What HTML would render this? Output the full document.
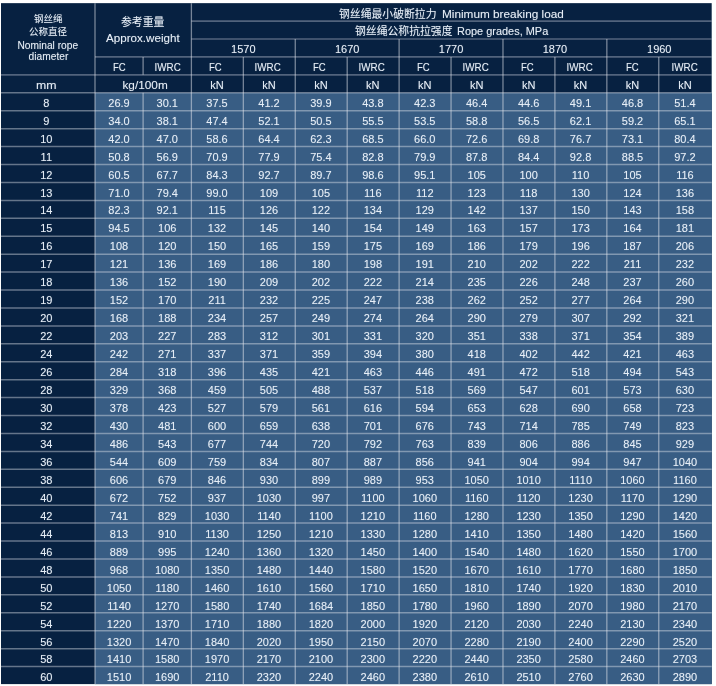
<!DOCTYPE html>
<html lang="en"><head><meta charset="utf-8"><title>Steel wire rope data table</title>
<style>
html,body{margin:0;padding:0;background:#fff}
body{width:716px;height:686px;position:relative;overflow:hidden;font-family:"Liberation Sans", sans-serif;font-size:11px;color:#e6eef7}
#bg{position:absolute;left:0;top:0}
.t{position:absolute;line-height:16px;height:16px;text-align:center;white-space:nowrap}
.t span{display:inline-block}
.t.l{text-align:left}
.t.l span{transform-origin:0 50%}
.g{position:absolute;overflow:visible;fill:#e6eef7;stroke:none}
.g text{font-family:"Liberation Sans","Noto Sans CJK SC",sans-serif;font-size:1000px;fill:#e6eef7;stroke:none}
#tx{position:absolute;left:0;top:0;width:716px;height:686px;will-change:transform;text-shadow:0 0 1px rgba(255,255,255,0.35)}
</style></head><body>
<svg id="bg" width="716" height="686" viewBox="0 0 716 686"><rect x="1" y="3.15" width="710.7" height="680.95" fill="#072141"/><rect x="95" y="92.8" width="616.7" height="591.3" fill="#385d84"/><path d="M191.4 21.08H711.7M191.4 39.01H711.7M95 56.94H711.7M1 74.87H711.7" fill="none" stroke="rgba(225,230,240,0.34)" stroke-width="1.7"/><path d="M1 92.8H711.7M1 110.73H711.7M1 128.66H711.7M1 146.59H711.7M1 164.52H711.7M1 182.45H711.7M1 200.38H711.7M1 218.31H711.7M1 236.24H711.7M1 254.17H711.7M1 272.1H711.7M1 290.03H711.7M1 307.96H711.7M1 325.89H711.7M1 343.82H711.7M1 361.75H711.7M1 379.68H711.7M1 397.61H711.7M1 415.54H711.7M1 433.47H711.7M1 451.4H711.7M1 469.33H711.7M1 487.26H711.7M1 505.19H711.7M1 523.12H711.7M1 541.05H711.7M1 558.98H711.7M1 576.91H711.7M1 594.84H711.7M1 612.77H711.7M1 630.7H711.7M1 648.63H711.7M1 666.56H711.7" fill="none" stroke="rgba(232,234,240,0.42)" stroke-width="1.5"/><path d="M95 3.15V684.1M143.1 56.94V74.87M143.1 92.8V684.1M191.4 3.15V684.1M243.33 56.94V684.1M295.26 39.01V684.1M347.19 56.94V684.1M399.12 39.01V684.1M451.05 56.94V684.1M502.98 39.01V684.1M554.91 56.94V684.1M606.84 39.01V684.1M658.77 56.94V684.1" fill="none" stroke="rgba(232,234,240,0.5)" stroke-width="1.3"/></svg>
<div id="tx">
<svg class="g" role="img" aria-label="钢丝绳" style="left:33.75px;top:14.15px" width="28.5" height="9.5" viewBox="0 -880 3000 1000"><title>钢丝绳</title><text x="0" y="0" font-size="1000">钢丝绳</text></svg>
<svg class="g" role="img" aria-label="公称直径" style="left:29px;top:26.75px" width="38" height="9.5" viewBox="0 -880 4000 1000"><title>公称直径</title><text x="0" y="0" font-size="1000">公称直径</text></svg>
<div class="t" style="left:-12px;top:38px;width:120px;font-size:10px"><span style="transform:scaleX(1.02)">Nominal rope</span></div>
<div class="t" style="left:-12px;top:49px;width:120px;font-size:10px"><span style="transform:scaleX(1.02)">diameter</span></div>
<div class="t" style="left:-13.7px;top:77px;width:120px"><span style="transform:scaleX(1.118)">mm</span></div>
<svg class="g" role="img" aria-label="参考重量" style="left:120.7px;top:16.38px" width="43.4" height="10.85" viewBox="0 -880 4000 1000"><title>参考重量</title><text x="0" y="0" font-size="1000">参考重量</text></svg>
<div class="t" style="left:83.2px;top:30px;width:120px"><span style="transform:scaleX(1.057)">Approx.weight</span></div>
<div class="t" style="left:59.05px;top:59px;width:120px"><span style="transform:scaleX(0.87)">FC</span></div>
<div class="t" style="left:107.25px;top:59px;width:120px"><span style="transform:scaleX(0.893)">IWRC</span></div>
<div class="t" style="left:85.2px;top:77px;width:120px"><span style="transform:scaleX(1.073)">kg/100m</span></div>
<svg class="g" role="img" aria-label="钢丝绳最小破断拉力" style="left:339.1px;top:8.19px" width="97.65" height="10.85" viewBox="0 -880 9000 1000"><title>钢丝绳最小破断拉力</title><text x="0" y="0" font-size="1000">钢丝绳最小破断拉力</text></svg>
<div class="t l" style="left:442.4px;top:6px"><span style="transform:scaleX(1.071)">Minimum breaking load</span></div>
<svg class="g" role="img" aria-label="钢丝绳公称抗拉强度" style="left:355.1px;top:25.02px" width="97.65" height="10.85" viewBox="0 -880 9000 1000"><title>钢丝绳公称抗拉强度</title><text x="0" y="0" font-size="1000">钢丝绳公称抗拉强度</text></svg>
<div class="t l" style="left:457.4px;top:23px"><span style="transform:scaleX(0.995)">Rope grades, MPa</span></div>
<div class="t" style="left:183.33px;top:41px;width:120px">1570</div>
<div class="t" style="left:287.19px;top:41px;width:120px">1670</div>
<div class="t" style="left:391.05px;top:41px;width:120px">1770</div>
<div class="t" style="left:494.91px;top:41px;width:120px">1870</div>
<div class="t" style="left:599.27px;top:41px;width:120px">1960</div>
<div class="t" style="left:155.56px;top:59px;width:120px"><span style="transform:scaleX(0.87)">FC</span></div>
<div class="t" style="left:157.06px;top:77px;width:120px">kN</div>
<div class="t" style="left:207.61px;top:59px;width:120px"><span style="transform:scaleX(0.893)">IWRC</span></div>
<div class="t" style="left:209px;top:77px;width:120px">kN</div>
<div class="t" style="left:259.65px;top:59px;width:120px"><span style="transform:scaleX(0.87)">FC</span></div>
<div class="t" style="left:260.93px;top:77px;width:120px">kN</div>
<div class="t" style="left:311.68px;top:59px;width:120px"><span style="transform:scaleX(0.893)">IWRC</span></div>
<div class="t" style="left:312.85px;top:77px;width:120px">kN</div>
<div class="t" style="left:363.73px;top:59px;width:120px"><span style="transform:scaleX(0.87)">FC</span></div>
<div class="t" style="left:364.79px;top:77px;width:120px">kN</div>
<div class="t" style="left:415.76px;top:59px;width:120px"><span style="transform:scaleX(0.893)">IWRC</span></div>
<div class="t" style="left:416.71px;top:77px;width:120px">kN</div>
<div class="t" style="left:467.8px;top:59px;width:120px"><span style="transform:scaleX(0.87)">FC</span></div>
<div class="t" style="left:468.64px;top:77px;width:120px">kN</div>
<div class="t" style="left:519.85px;top:59px;width:120px"><span style="transform:scaleX(0.893)">IWRC</span></div>
<div class="t" style="left:520.58px;top:77px;width:120px">kN</div>
<div class="t" style="left:571.89px;top:59px;width:120px"><span style="transform:scaleX(0.87)">FC</span></div>
<div class="t" style="left:572.51px;top:77px;width:120px">kN</div>
<div class="t" style="left:624.43px;top:59px;width:120px"><span style="transform:scaleX(0.893)">IWRC</span></div>
<div class="t" style="left:624.94px;top:77px;width:120px">kN</div>
<div class="t" style="left:-13.7px;top:95px;width:120px">8</div>
<div class="t" style="left:59.05px;top:95px;width:120px">26.9</div>
<div class="t" style="left:107.25px;top:95px;width:120px">30.1</div>
<div class="t" style="left:157.06px;top:95px;width:120px">37.5</div>
<div class="t" style="left:209px;top:95px;width:120px">41.2</div>
<div class="t" style="left:260.93px;top:95px;width:120px">39.9</div>
<div class="t" style="left:312.85px;top:95px;width:120px">43.8</div>
<div class="t" style="left:364.79px;top:95px;width:120px">42.3</div>
<div class="t" style="left:416.71px;top:95px;width:120px">46.4</div>
<div class="t" style="left:468.64px;top:95px;width:120px">44.6</div>
<div class="t" style="left:520.58px;top:95px;width:120px">49.1</div>
<div class="t" style="left:572.51px;top:95px;width:120px">46.8</div>
<div class="t" style="left:624.94px;top:95px;width:120px">51.4</div>
<div class="t" style="left:-13.7px;top:113px;width:120px">9</div>
<div class="t" style="left:59.05px;top:113px;width:120px">34.0</div>
<div class="t" style="left:107.25px;top:113px;width:120px">38.1</div>
<div class="t" style="left:157.06px;top:113px;width:120px">47.4</div>
<div class="t" style="left:209px;top:113px;width:120px">52.1</div>
<div class="t" style="left:260.93px;top:113px;width:120px">50.5</div>
<div class="t" style="left:312.85px;top:113px;width:120px">55.5</div>
<div class="t" style="left:364.79px;top:113px;width:120px">53.5</div>
<div class="t" style="left:416.71px;top:113px;width:120px">58.8</div>
<div class="t" style="left:468.64px;top:113px;width:120px">56.5</div>
<div class="t" style="left:520.58px;top:113px;width:120px">62.1</div>
<div class="t" style="left:572.51px;top:113px;width:120px">59.2</div>
<div class="t" style="left:624.94px;top:113px;width:120px">65.1</div>
<div class="t" style="left:-13.7px;top:131px;width:120px">10</div>
<div class="t" style="left:59.05px;top:131px;width:120px">42.0</div>
<div class="t" style="left:107.25px;top:131px;width:120px">47.0</div>
<div class="t" style="left:157.06px;top:131px;width:120px">58.6</div>
<div class="t" style="left:209px;top:131px;width:120px">64.4</div>
<div class="t" style="left:260.93px;top:131px;width:120px">62.3</div>
<div class="t" style="left:312.85px;top:131px;width:120px">68.5</div>
<div class="t" style="left:364.79px;top:131px;width:120px">66.0</div>
<div class="t" style="left:416.71px;top:131px;width:120px">72.6</div>
<div class="t" style="left:468.64px;top:131px;width:120px">69.8</div>
<div class="t" style="left:520.58px;top:131px;width:120px">76.7</div>
<div class="t" style="left:572.51px;top:131px;width:120px">73.1</div>
<div class="t" style="left:624.94px;top:131px;width:120px">80.4</div>
<div class="t" style="left:-13.7px;top:149px;width:120px">11</div>
<div class="t" style="left:59.05px;top:149px;width:120px">50.8</div>
<div class="t" style="left:107.25px;top:149px;width:120px">56.9</div>
<div class="t" style="left:157.06px;top:149px;width:120px">70.9</div>
<div class="t" style="left:209px;top:149px;width:120px">77.9</div>
<div class="t" style="left:260.93px;top:149px;width:120px">75.4</div>
<div class="t" style="left:312.85px;top:149px;width:120px">82.8</div>
<div class="t" style="left:364.79px;top:149px;width:120px">79.9</div>
<div class="t" style="left:416.71px;top:149px;width:120px">87.8</div>
<div class="t" style="left:468.64px;top:149px;width:120px">84.4</div>
<div class="t" style="left:520.58px;top:149px;width:120px">92.8</div>
<div class="t" style="left:572.51px;top:149px;width:120px">88.5</div>
<div class="t" style="left:624.94px;top:149px;width:120px">97.2</div>
<div class="t" style="left:-13.7px;top:167px;width:120px">12</div>
<div class="t" style="left:59.05px;top:167px;width:120px">60.5</div>
<div class="t" style="left:107.25px;top:167px;width:120px">67.7</div>
<div class="t" style="left:157.06px;top:167px;width:120px">84.3</div>
<div class="t" style="left:209px;top:167px;width:120px">92.7</div>
<div class="t" style="left:260.93px;top:167px;width:120px">89.7</div>
<div class="t" style="left:312.85px;top:167px;width:120px">98.6</div>
<div class="t" style="left:364.79px;top:167px;width:120px">95.1</div>
<div class="t" style="left:416.71px;top:167px;width:120px">105</div>
<div class="t" style="left:468.64px;top:167px;width:120px">100</div>
<div class="t" style="left:520.58px;top:167px;width:120px">110</div>
<div class="t" style="left:572.51px;top:167px;width:120px">105</div>
<div class="t" style="left:624.94px;top:167px;width:120px">116</div>
<div class="t" style="left:-13.7px;top:185px;width:120px">13</div>
<div class="t" style="left:59.05px;top:185px;width:120px">71.0</div>
<div class="t" style="left:107.25px;top:185px;width:120px">79.4</div>
<div class="t" style="left:157.06px;top:185px;width:120px">99.0</div>
<div class="t" style="left:209px;top:185px;width:120px">109</div>
<div class="t" style="left:260.93px;top:185px;width:120px">105</div>
<div class="t" style="left:312.85px;top:185px;width:120px">116</div>
<div class="t" style="left:364.79px;top:185px;width:120px">112</div>
<div class="t" style="left:416.71px;top:185px;width:120px">123</div>
<div class="t" style="left:468.64px;top:185px;width:120px">118</div>
<div class="t" style="left:520.58px;top:185px;width:120px">130</div>
<div class="t" style="left:572.51px;top:185px;width:120px">124</div>
<div class="t" style="left:624.94px;top:185px;width:120px">136</div>
<div class="t" style="left:-13.7px;top:202px;width:120px">14</div>
<div class="t" style="left:59.05px;top:202px;width:120px">82.3</div>
<div class="t" style="left:107.25px;top:202px;width:120px">92.1</div>
<div class="t" style="left:157.06px;top:202px;width:120px">115</div>
<div class="t" style="left:209px;top:202px;width:120px">126</div>
<div class="t" style="left:260.93px;top:202px;width:120px">122</div>
<div class="t" style="left:312.85px;top:202px;width:120px">134</div>
<div class="t" style="left:364.79px;top:202px;width:120px">129</div>
<div class="t" style="left:416.71px;top:202px;width:120px">142</div>
<div class="t" style="left:468.64px;top:202px;width:120px">137</div>
<div class="t" style="left:520.58px;top:202px;width:120px">150</div>
<div class="t" style="left:572.51px;top:202px;width:120px">143</div>
<div class="t" style="left:624.94px;top:202px;width:120px">158</div>
<div class="t" style="left:-13.7px;top:220px;width:120px">15</div>
<div class="t" style="left:59.05px;top:220px;width:120px">94.5</div>
<div class="t" style="left:107.25px;top:220px;width:120px">106</div>
<div class="t" style="left:157.06px;top:220px;width:120px">132</div>
<div class="t" style="left:209px;top:220px;width:120px">145</div>
<div class="t" style="left:260.93px;top:220px;width:120px">140</div>
<div class="t" style="left:312.85px;top:220px;width:120px">154</div>
<div class="t" style="left:364.79px;top:220px;width:120px">149</div>
<div class="t" style="left:416.71px;top:220px;width:120px">163</div>
<div class="t" style="left:468.64px;top:220px;width:120px">157</div>
<div class="t" style="left:520.58px;top:220px;width:120px">173</div>
<div class="t" style="left:572.51px;top:220px;width:120px">164</div>
<div class="t" style="left:624.94px;top:220px;width:120px">181</div>
<div class="t" style="left:-13.7px;top:238px;width:120px">16</div>
<div class="t" style="left:59.05px;top:238px;width:120px">108</div>
<div class="t" style="left:107.25px;top:238px;width:120px">120</div>
<div class="t" style="left:157.06px;top:238px;width:120px">150</div>
<div class="t" style="left:209px;top:238px;width:120px">165</div>
<div class="t" style="left:260.93px;top:238px;width:120px">159</div>
<div class="t" style="left:312.85px;top:238px;width:120px">175</div>
<div class="t" style="left:364.79px;top:238px;width:120px">169</div>
<div class="t" style="left:416.71px;top:238px;width:120px">186</div>
<div class="t" style="left:468.64px;top:238px;width:120px">179</div>
<div class="t" style="left:520.58px;top:238px;width:120px">196</div>
<div class="t" style="left:572.51px;top:238px;width:120px">187</div>
<div class="t" style="left:624.94px;top:238px;width:120px">206</div>
<div class="t" style="left:-13.7px;top:256px;width:120px">17</div>
<div class="t" style="left:59.05px;top:256px;width:120px">121</div>
<div class="t" style="left:107.25px;top:256px;width:120px">136</div>
<div class="t" style="left:157.06px;top:256px;width:120px">169</div>
<div class="t" style="left:209px;top:256px;width:120px">186</div>
<div class="t" style="left:260.93px;top:256px;width:120px">180</div>
<div class="t" style="left:312.85px;top:256px;width:120px">198</div>
<div class="t" style="left:364.79px;top:256px;width:120px">191</div>
<div class="t" style="left:416.71px;top:256px;width:120px">210</div>
<div class="t" style="left:468.64px;top:256px;width:120px">202</div>
<div class="t" style="left:520.58px;top:256px;width:120px">222</div>
<div class="t" style="left:572.51px;top:256px;width:120px">211</div>
<div class="t" style="left:624.94px;top:256px;width:120px">232</div>
<div class="t" style="left:-13.7px;top:274px;width:120px">18</div>
<div class="t" style="left:59.05px;top:274px;width:120px">136</div>
<div class="t" style="left:107.25px;top:274px;width:120px">152</div>
<div class="t" style="left:157.06px;top:274px;width:120px">190</div>
<div class="t" style="left:209px;top:274px;width:120px">209</div>
<div class="t" style="left:260.93px;top:274px;width:120px">202</div>
<div class="t" style="left:312.85px;top:274px;width:120px">222</div>
<div class="t" style="left:364.79px;top:274px;width:120px">214</div>
<div class="t" style="left:416.71px;top:274px;width:120px">235</div>
<div class="t" style="left:468.64px;top:274px;width:120px">226</div>
<div class="t" style="left:520.58px;top:274px;width:120px">248</div>
<div class="t" style="left:572.51px;top:274px;width:120px">237</div>
<div class="t" style="left:624.94px;top:274px;width:120px">260</div>
<div class="t" style="left:-13.7px;top:292px;width:120px">19</div>
<div class="t" style="left:59.05px;top:292px;width:120px">152</div>
<div class="t" style="left:107.25px;top:292px;width:120px">170</div>
<div class="t" style="left:157.06px;top:292px;width:120px">211</div>
<div class="t" style="left:209px;top:292px;width:120px">232</div>
<div class="t" style="left:260.93px;top:292px;width:120px">225</div>
<div class="t" style="left:312.85px;top:292px;width:120px">247</div>
<div class="t" style="left:364.79px;top:292px;width:120px">238</div>
<div class="t" style="left:416.71px;top:292px;width:120px">262</div>
<div class="t" style="left:468.64px;top:292px;width:120px">252</div>
<div class="t" style="left:520.58px;top:292px;width:120px">277</div>
<div class="t" style="left:572.51px;top:292px;width:120px">264</div>
<div class="t" style="left:624.94px;top:292px;width:120px">290</div>
<div class="t" style="left:-13.7px;top:310px;width:120px">20</div>
<div class="t" style="left:59.05px;top:310px;width:120px">168</div>
<div class="t" style="left:107.25px;top:310px;width:120px">188</div>
<div class="t" style="left:157.06px;top:310px;width:120px">234</div>
<div class="t" style="left:209px;top:310px;width:120px">257</div>
<div class="t" style="left:260.93px;top:310px;width:120px">249</div>
<div class="t" style="left:312.85px;top:310px;width:120px">274</div>
<div class="t" style="left:364.79px;top:310px;width:120px">264</div>
<div class="t" style="left:416.71px;top:310px;width:120px">290</div>
<div class="t" style="left:468.64px;top:310px;width:120px">279</div>
<div class="t" style="left:520.58px;top:310px;width:120px">307</div>
<div class="t" style="left:572.51px;top:310px;width:120px">292</div>
<div class="t" style="left:624.94px;top:310px;width:120px">321</div>
<div class="t" style="left:-13.7px;top:328px;width:120px">22</div>
<div class="t" style="left:59.05px;top:328px;width:120px">203</div>
<div class="t" style="left:107.25px;top:328px;width:120px">227</div>
<div class="t" style="left:157.06px;top:328px;width:120px">283</div>
<div class="t" style="left:209px;top:328px;width:120px">312</div>
<div class="t" style="left:260.93px;top:328px;width:120px">301</div>
<div class="t" style="left:312.85px;top:328px;width:120px">331</div>
<div class="t" style="left:364.79px;top:328px;width:120px">320</div>
<div class="t" style="left:416.71px;top:328px;width:120px">351</div>
<div class="t" style="left:468.64px;top:328px;width:120px">338</div>
<div class="t" style="left:520.58px;top:328px;width:120px">371</div>
<div class="t" style="left:572.51px;top:328px;width:120px">354</div>
<div class="t" style="left:624.94px;top:328px;width:120px">389</div>
<div class="t" style="left:-13.7px;top:346px;width:120px">24</div>
<div class="t" style="left:59.05px;top:346px;width:120px">242</div>
<div class="t" style="left:107.25px;top:346px;width:120px">271</div>
<div class="t" style="left:157.06px;top:346px;width:120px">337</div>
<div class="t" style="left:209px;top:346px;width:120px">371</div>
<div class="t" style="left:260.93px;top:346px;width:120px">359</div>
<div class="t" style="left:312.85px;top:346px;width:120px">394</div>
<div class="t" style="left:364.79px;top:346px;width:120px">380</div>
<div class="t" style="left:416.71px;top:346px;width:120px">418</div>
<div class="t" style="left:468.64px;top:346px;width:120px">402</div>
<div class="t" style="left:520.58px;top:346px;width:120px">442</div>
<div class="t" style="left:572.51px;top:346px;width:120px">421</div>
<div class="t" style="left:624.94px;top:346px;width:120px">463</div>
<div class="t" style="left:-13.7px;top:364px;width:120px">26</div>
<div class="t" style="left:59.05px;top:364px;width:120px">284</div>
<div class="t" style="left:107.25px;top:364px;width:120px">318</div>
<div class="t" style="left:157.06px;top:364px;width:120px">396</div>
<div class="t" style="left:209px;top:364px;width:120px">435</div>
<div class="t" style="left:260.93px;top:364px;width:120px">421</div>
<div class="t" style="left:312.85px;top:364px;width:120px">463</div>
<div class="t" style="left:364.79px;top:364px;width:120px">446</div>
<div class="t" style="left:416.71px;top:364px;width:120px">491</div>
<div class="t" style="left:468.64px;top:364px;width:120px">472</div>
<div class="t" style="left:520.58px;top:364px;width:120px">518</div>
<div class="t" style="left:572.51px;top:364px;width:120px">494</div>
<div class="t" style="left:624.94px;top:364px;width:120px">543</div>
<div class="t" style="left:-13.7px;top:382px;width:120px">28</div>
<div class="t" style="left:59.05px;top:382px;width:120px">329</div>
<div class="t" style="left:107.25px;top:382px;width:120px">368</div>
<div class="t" style="left:157.06px;top:382px;width:120px">459</div>
<div class="t" style="left:209px;top:382px;width:120px">505</div>
<div class="t" style="left:260.93px;top:382px;width:120px">488</div>
<div class="t" style="left:312.85px;top:382px;width:120px">537</div>
<div class="t" style="left:364.79px;top:382px;width:120px">518</div>
<div class="t" style="left:416.71px;top:382px;width:120px">569</div>
<div class="t" style="left:468.64px;top:382px;width:120px">547</div>
<div class="t" style="left:520.58px;top:382px;width:120px">601</div>
<div class="t" style="left:572.51px;top:382px;width:120px">573</div>
<div class="t" style="left:624.94px;top:382px;width:120px">630</div>
<div class="t" style="left:-13.7px;top:400px;width:120px">30</div>
<div class="t" style="left:59.05px;top:400px;width:120px">378</div>
<div class="t" style="left:107.25px;top:400px;width:120px">423</div>
<div class="t" style="left:157.06px;top:400px;width:120px">527</div>
<div class="t" style="left:209px;top:400px;width:120px">579</div>
<div class="t" style="left:260.93px;top:400px;width:120px">561</div>
<div class="t" style="left:312.85px;top:400px;width:120px">616</div>
<div class="t" style="left:364.79px;top:400px;width:120px">594</div>
<div class="t" style="left:416.71px;top:400px;width:120px">653</div>
<div class="t" style="left:468.64px;top:400px;width:120px">628</div>
<div class="t" style="left:520.58px;top:400px;width:120px">690</div>
<div class="t" style="left:572.51px;top:400px;width:120px">658</div>
<div class="t" style="left:624.94px;top:400px;width:120px">723</div>
<div class="t" style="left:-13.7px;top:418px;width:120px">32</div>
<div class="t" style="left:59.05px;top:418px;width:120px">430</div>
<div class="t" style="left:107.25px;top:418px;width:120px">481</div>
<div class="t" style="left:157.06px;top:418px;width:120px">600</div>
<div class="t" style="left:209px;top:418px;width:120px">659</div>
<div class="t" style="left:260.93px;top:418px;width:120px">638</div>
<div class="t" style="left:312.85px;top:418px;width:120px">701</div>
<div class="t" style="left:364.79px;top:418px;width:120px">676</div>
<div class="t" style="left:416.71px;top:418px;width:120px">743</div>
<div class="t" style="left:468.64px;top:418px;width:120px">714</div>
<div class="t" style="left:520.58px;top:418px;width:120px">785</div>
<div class="t" style="left:572.51px;top:418px;width:120px">749</div>
<div class="t" style="left:624.94px;top:418px;width:120px">823</div>
<div class="t" style="left:-13.7px;top:436px;width:120px">34</div>
<div class="t" style="left:59.05px;top:436px;width:120px">486</div>
<div class="t" style="left:107.25px;top:436px;width:120px">543</div>
<div class="t" style="left:157.06px;top:436px;width:120px">677</div>
<div class="t" style="left:209px;top:436px;width:120px">744</div>
<div class="t" style="left:260.93px;top:436px;width:120px">720</div>
<div class="t" style="left:312.85px;top:436px;width:120px">792</div>
<div class="t" style="left:364.79px;top:436px;width:120px">763</div>
<div class="t" style="left:416.71px;top:436px;width:120px">839</div>
<div class="t" style="left:468.64px;top:436px;width:120px">806</div>
<div class="t" style="left:520.58px;top:436px;width:120px">886</div>
<div class="t" style="left:572.51px;top:436px;width:120px">845</div>
<div class="t" style="left:624.94px;top:436px;width:120px">929</div>
<div class="t" style="left:-13.7px;top:454px;width:120px">36</div>
<div class="t" style="left:59.05px;top:454px;width:120px">544</div>
<div class="t" style="left:107.25px;top:454px;width:120px">609</div>
<div class="t" style="left:157.06px;top:454px;width:120px">759</div>
<div class="t" style="left:209px;top:454px;width:120px">834</div>
<div class="t" style="left:260.93px;top:454px;width:120px">807</div>
<div class="t" style="left:312.85px;top:454px;width:120px">887</div>
<div class="t" style="left:364.79px;top:454px;width:120px">856</div>
<div class="t" style="left:416.71px;top:454px;width:120px">941</div>
<div class="t" style="left:468.64px;top:454px;width:120px">904</div>
<div class="t" style="left:520.58px;top:454px;width:120px">994</div>
<div class="t" style="left:572.51px;top:454px;width:120px">947</div>
<div class="t" style="left:624.94px;top:454px;width:120px">1040</div>
<div class="t" style="left:-13.7px;top:472px;width:120px">38</div>
<div class="t" style="left:59.05px;top:472px;width:120px">606</div>
<div class="t" style="left:107.25px;top:472px;width:120px">679</div>
<div class="t" style="left:157.06px;top:472px;width:120px">846</div>
<div class="t" style="left:209px;top:472px;width:120px">930</div>
<div class="t" style="left:260.93px;top:472px;width:120px">899</div>
<div class="t" style="left:312.85px;top:472px;width:120px">989</div>
<div class="t" style="left:364.79px;top:472px;width:120px">953</div>
<div class="t" style="left:416.71px;top:472px;width:120px">1050</div>
<div class="t" style="left:468.64px;top:472px;width:120px">1010</div>
<div class="t" style="left:520.58px;top:472px;width:120px">1110</div>
<div class="t" style="left:572.51px;top:472px;width:120px">1060</div>
<div class="t" style="left:624.94px;top:472px;width:120px">1160</div>
<div class="t" style="left:-13.7px;top:490px;width:120px">40</div>
<div class="t" style="left:59.05px;top:490px;width:120px">672</div>
<div class="t" style="left:107.25px;top:490px;width:120px">752</div>
<div class="t" style="left:157.06px;top:490px;width:120px">937</div>
<div class="t" style="left:209px;top:490px;width:120px">1030</div>
<div class="t" style="left:260.93px;top:490px;width:120px">997</div>
<div class="t" style="left:312.85px;top:490px;width:120px">1100</div>
<div class="t" style="left:364.79px;top:490px;width:120px">1060</div>
<div class="t" style="left:416.71px;top:490px;width:120px">1160</div>
<div class="t" style="left:468.64px;top:490px;width:120px">1120</div>
<div class="t" style="left:520.58px;top:490px;width:120px">1230</div>
<div class="t" style="left:572.51px;top:490px;width:120px">1170</div>
<div class="t" style="left:624.94px;top:490px;width:120px">1290</div>
<div class="t" style="left:-13.7px;top:508px;width:120px">42</div>
<div class="t" style="left:59.05px;top:508px;width:120px">741</div>
<div class="t" style="left:107.25px;top:508px;width:120px">829</div>
<div class="t" style="left:157.06px;top:508px;width:120px">1030</div>
<div class="t" style="left:209px;top:508px;width:120px">1140</div>
<div class="t" style="left:260.93px;top:508px;width:120px">1100</div>
<div class="t" style="left:312.85px;top:508px;width:120px">1210</div>
<div class="t" style="left:364.79px;top:508px;width:120px">1160</div>
<div class="t" style="left:416.71px;top:508px;width:120px">1280</div>
<div class="t" style="left:468.64px;top:508px;width:120px">1230</div>
<div class="t" style="left:520.58px;top:508px;width:120px">1350</div>
<div class="t" style="left:572.51px;top:508px;width:120px">1290</div>
<div class="t" style="left:624.94px;top:508px;width:120px">1420</div>
<div class="t" style="left:-13.7px;top:526px;width:120px">44</div>
<div class="t" style="left:59.05px;top:526px;width:120px">813</div>
<div class="t" style="left:107.25px;top:526px;width:120px">910</div>
<div class="t" style="left:157.06px;top:526px;width:120px">1130</div>
<div class="t" style="left:209px;top:526px;width:120px">1250</div>
<div class="t" style="left:260.93px;top:526px;width:120px">1210</div>
<div class="t" style="left:312.85px;top:526px;width:120px">1330</div>
<div class="t" style="left:364.79px;top:526px;width:120px">1280</div>
<div class="t" style="left:416.71px;top:526px;width:120px">1410</div>
<div class="t" style="left:468.64px;top:526px;width:120px">1350</div>
<div class="t" style="left:520.58px;top:526px;width:120px">1480</div>
<div class="t" style="left:572.51px;top:526px;width:120px">1420</div>
<div class="t" style="left:624.94px;top:526px;width:120px">1560</div>
<div class="t" style="left:-13.7px;top:544px;width:120px">46</div>
<div class="t" style="left:59.05px;top:544px;width:120px">889</div>
<div class="t" style="left:107.25px;top:544px;width:120px">995</div>
<div class="t" style="left:157.06px;top:544px;width:120px">1240</div>
<div class="t" style="left:209px;top:544px;width:120px">1360</div>
<div class="t" style="left:260.93px;top:544px;width:120px">1320</div>
<div class="t" style="left:312.85px;top:544px;width:120px">1450</div>
<div class="t" style="left:364.79px;top:544px;width:120px">1400</div>
<div class="t" style="left:416.71px;top:544px;width:120px">1540</div>
<div class="t" style="left:468.64px;top:544px;width:120px">1480</div>
<div class="t" style="left:520.58px;top:544px;width:120px">1620</div>
<div class="t" style="left:572.51px;top:544px;width:120px">1550</div>
<div class="t" style="left:624.94px;top:544px;width:120px">1700</div>
<div class="t" style="left:-13.7px;top:562px;width:120px">48</div>
<div class="t" style="left:59.05px;top:562px;width:120px">968</div>
<div class="t" style="left:107.25px;top:562px;width:120px">1080</div>
<div class="t" style="left:157.06px;top:562px;width:120px">1350</div>
<div class="t" style="left:209px;top:562px;width:120px">1480</div>
<div class="t" style="left:260.93px;top:562px;width:120px">1440</div>
<div class="t" style="left:312.85px;top:562px;width:120px">1580</div>
<div class="t" style="left:364.79px;top:562px;width:120px">1520</div>
<div class="t" style="left:416.71px;top:562px;width:120px">1670</div>
<div class="t" style="left:468.64px;top:562px;width:120px">1610</div>
<div class="t" style="left:520.58px;top:562px;width:120px">1770</div>
<div class="t" style="left:572.51px;top:562px;width:120px">1680</div>
<div class="t" style="left:624.94px;top:562px;width:120px">1850</div>
<div class="t" style="left:-13.7px;top:580px;width:120px">50</div>
<div class="t" style="left:59.05px;top:580px;width:120px">1050</div>
<div class="t" style="left:107.25px;top:580px;width:120px">1180</div>
<div class="t" style="left:157.06px;top:580px;width:120px">1460</div>
<div class="t" style="left:209px;top:580px;width:120px">1610</div>
<div class="t" style="left:260.93px;top:580px;width:120px">1560</div>
<div class="t" style="left:312.85px;top:580px;width:120px">1710</div>
<div class="t" style="left:364.79px;top:580px;width:120px">1650</div>
<div class="t" style="left:416.71px;top:580px;width:120px">1810</div>
<div class="t" style="left:468.64px;top:580px;width:120px">1740</div>
<div class="t" style="left:520.58px;top:580px;width:120px">1920</div>
<div class="t" style="left:572.51px;top:580px;width:120px">1830</div>
<div class="t" style="left:624.94px;top:580px;width:120px">2010</div>
<div class="t" style="left:-13.7px;top:598px;width:120px">52</div>
<div class="t" style="left:59.05px;top:598px;width:120px">1140</div>
<div class="t" style="left:107.25px;top:598px;width:120px">1270</div>
<div class="t" style="left:157.06px;top:598px;width:120px">1580</div>
<div class="t" style="left:209px;top:598px;width:120px">1740</div>
<div class="t" style="left:260.93px;top:598px;width:120px">1684</div>
<div class="t" style="left:312.85px;top:598px;width:120px">1850</div>
<div class="t" style="left:364.79px;top:598px;width:120px">1780</div>
<div class="t" style="left:416.71px;top:598px;width:120px">1960</div>
<div class="t" style="left:468.64px;top:598px;width:120px">1890</div>
<div class="t" style="left:520.58px;top:598px;width:120px">2070</div>
<div class="t" style="left:572.51px;top:598px;width:120px">1980</div>
<div class="t" style="left:624.94px;top:598px;width:120px">2170</div>
<div class="t" style="left:-13.7px;top:616px;width:120px">54</div>
<div class="t" style="left:59.05px;top:616px;width:120px">1220</div>
<div class="t" style="left:107.25px;top:616px;width:120px">1370</div>
<div class="t" style="left:157.06px;top:616px;width:120px">1710</div>
<div class="t" style="left:209px;top:616px;width:120px">1880</div>
<div class="t" style="left:260.93px;top:616px;width:120px">1820</div>
<div class="t" style="left:312.85px;top:616px;width:120px">2000</div>
<div class="t" style="left:364.79px;top:616px;width:120px">1920</div>
<div class="t" style="left:416.71px;top:616px;width:120px">2120</div>
<div class="t" style="left:468.64px;top:616px;width:120px">2030</div>
<div class="t" style="left:520.58px;top:616px;width:120px">2240</div>
<div class="t" style="left:572.51px;top:616px;width:120px">2130</div>
<div class="t" style="left:624.94px;top:616px;width:120px">2340</div>
<div class="t" style="left:-13.7px;top:634px;width:120px">56</div>
<div class="t" style="left:59.05px;top:634px;width:120px">1320</div>
<div class="t" style="left:107.25px;top:634px;width:120px">1470</div>
<div class="t" style="left:157.06px;top:634px;width:120px">1840</div>
<div class="t" style="left:209px;top:634px;width:120px">2020</div>
<div class="t" style="left:260.93px;top:634px;width:120px">1950</div>
<div class="t" style="left:312.85px;top:634px;width:120px">2150</div>
<div class="t" style="left:364.79px;top:634px;width:120px">2070</div>
<div class="t" style="left:416.71px;top:634px;width:120px">2280</div>
<div class="t" style="left:468.64px;top:634px;width:120px">2190</div>
<div class="t" style="left:520.58px;top:634px;width:120px">2400</div>
<div class="t" style="left:572.51px;top:634px;width:120px">2290</div>
<div class="t" style="left:624.94px;top:634px;width:120px">2520</div>
<div class="t" style="left:-13.7px;top:651px;width:120px">58</div>
<div class="t" style="left:59.05px;top:651px;width:120px">1410</div>
<div class="t" style="left:107.25px;top:651px;width:120px">1580</div>
<div class="t" style="left:157.06px;top:651px;width:120px">1970</div>
<div class="t" style="left:209px;top:651px;width:120px">2170</div>
<div class="t" style="left:260.93px;top:651px;width:120px">2100</div>
<div class="t" style="left:312.85px;top:651px;width:120px">2300</div>
<div class="t" style="left:364.79px;top:651px;width:120px">2220</div>
<div class="t" style="left:416.71px;top:651px;width:120px">2440</div>
<div class="t" style="left:468.64px;top:651px;width:120px">2350</div>
<div class="t" style="left:520.58px;top:651px;width:120px">2580</div>
<div class="t" style="left:572.51px;top:651px;width:120px">2460</div>
<div class="t" style="left:624.94px;top:651px;width:120px">2703</div>
<div class="t" style="left:-13.7px;top:669px;width:120px">60</div>
<div class="t" style="left:59.05px;top:669px;width:120px">1510</div>
<div class="t" style="left:107.25px;top:669px;width:120px">1690</div>
<div class="t" style="left:157.06px;top:669px;width:120px">2110</div>
<div class="t" style="left:209px;top:669px;width:120px">2320</div>
<div class="t" style="left:260.93px;top:669px;width:120px">2240</div>
<div class="t" style="left:312.85px;top:669px;width:120px">2460</div>
<div class="t" style="left:364.79px;top:669px;width:120px">2380</div>
<div class="t" style="left:416.71px;top:669px;width:120px">2610</div>
<div class="t" style="left:468.64px;top:669px;width:120px">2510</div>
<div class="t" style="left:520.58px;top:669px;width:120px">2760</div>
<div class="t" style="left:572.51px;top:669px;width:120px">2630</div>
<div class="t" style="left:624.94px;top:669px;width:120px">2890</div>
</div>
</body></html>
